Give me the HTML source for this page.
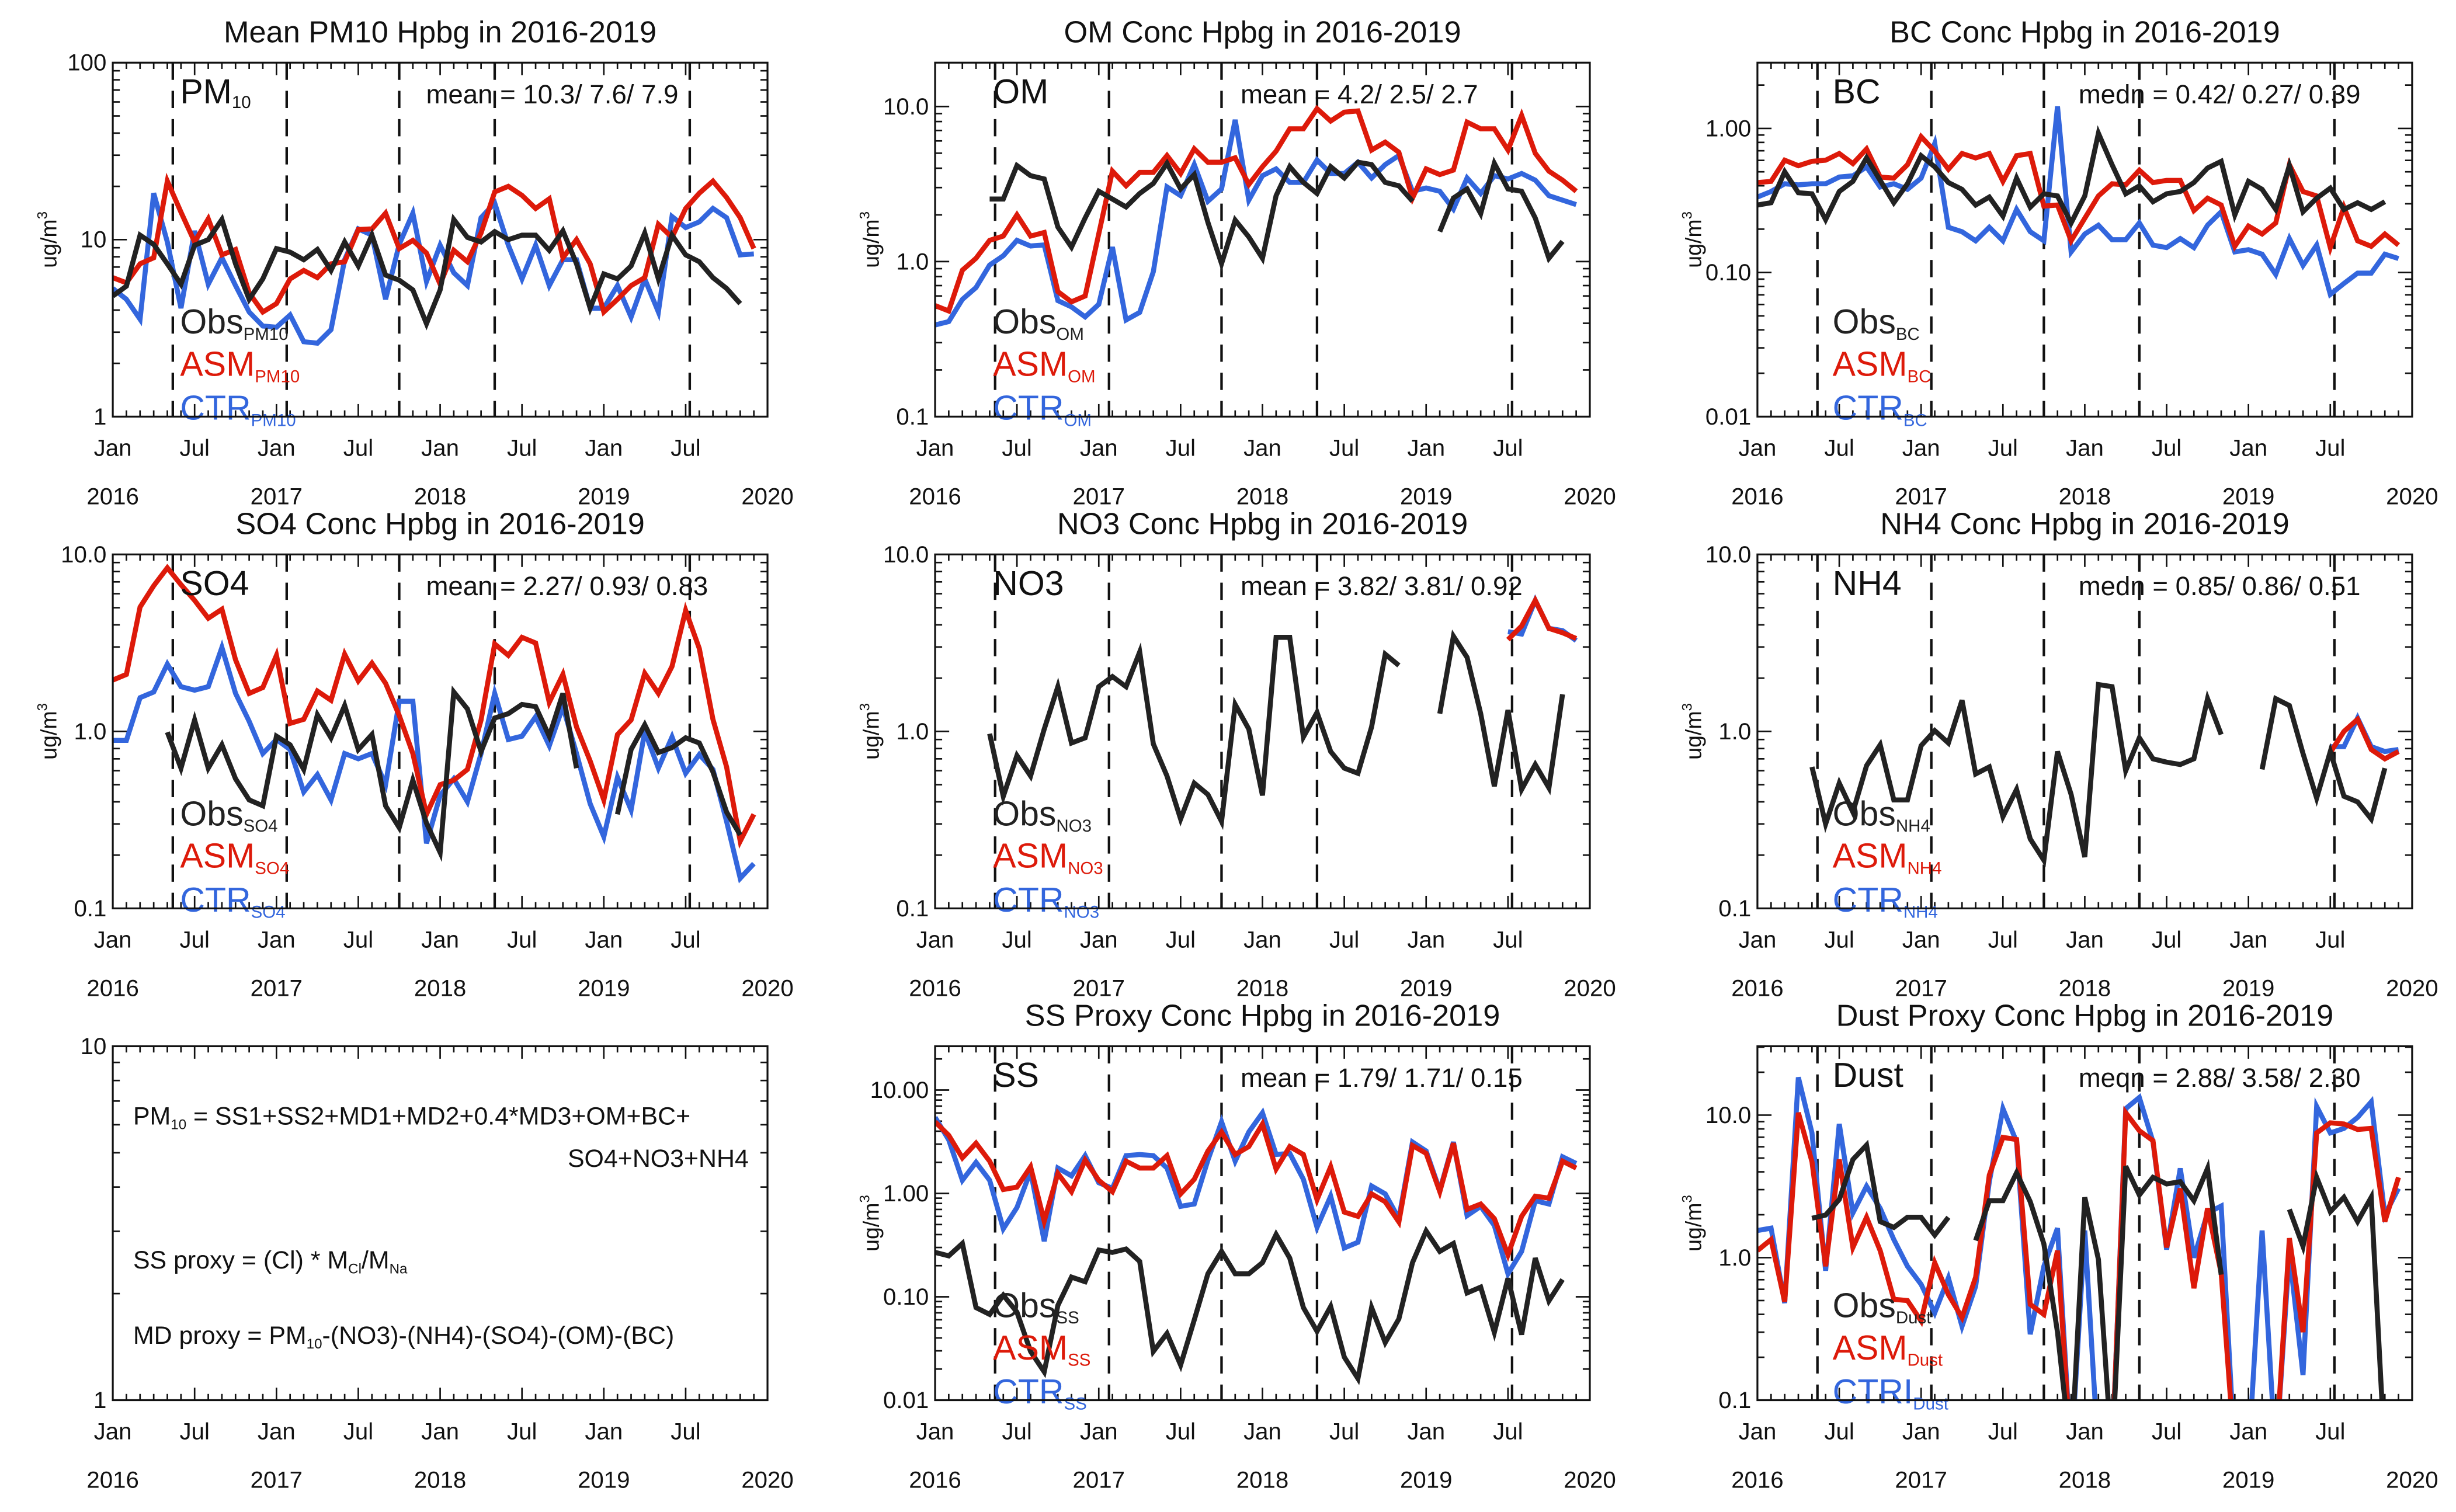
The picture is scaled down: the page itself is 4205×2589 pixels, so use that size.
<!DOCTYPE html>
<html><head><meta charset="utf-8"><title>Hpbg concentrations 2016-2019</title>
<style>
html,body{margin:0;padding:0;background:#fff;}
svg{display:block;font-family:"Liberation Sans",sans-serif;}
</style></head>
<body>
<svg id="fig" width="4205" height="2589" viewBox="0 0 1568 965.4" xmlns="http://www.w3.org/2000/svg">
<rect x="0" y="0" width="1568" height="965.4" fill="#fff"/>
</svg>
<script>
// ---------- data (monthly, Jan 2016 .. Dec 2019; null = missing) ----------
const monthLabels = ['Jan','Jul','Jan','Jul','Jan','Jul','Jan','Jul'];
const yearLabels = ['2016','2017','2018','2019','2020'];
const campaignMonths = [4.4, 12.75, 21, 28, 42.3];

const pm10Obs = [4.8,5.46,10.6,9.4,7.3,5.6,9.3,10,13.0,7.3,4.6,6.0,8.9,8.5,7.7,8.8,6.7,9.7,7.1,10.6,6.3,5.9,5.2,3.35,5.2,13.0,10.3,9.7,11.1,10,10.6,10.6,8.7,11.2,7.3,4.1,6.4,6.0,7.1,10.9,6.0,10.6,8.2,7.5,6.1,5.3,4.35,null];
const pm10Asm = [6.1,5.7,7.3,7.9,21.4,14.3,9.7,13.1,8.2,8.8,5.0,3.9,4.35,6.0,6.7,6.1,7.3,7.5,11.4,11.5,14.1,8.9,9.9,8.4,5.6,8.7,7.5,10.9,18.6,20,17.8,15.0,17.0,7.9,10,7.3,3.9,4.6,5.5,6.1,12.2,10.3,15.0,18.3,21.4,17.3,13.3,8.9];
const pm10Ctr = [5.3,4.6,3.55,18.3,9.7,4.1,11.2,5.6,7.9,5.5,3.9,3.25,3.2,3.75,2.65,2.6,3.1,7.7,11.5,10.6,4.6,9.4,14.1,5.8,9.3,6.5,5.5,13.3,16.1,9.3,6.0,9.3,5.5,7.7,7.7,4.1,4.1,5.5,3.65,6.0,3.9,13.5,11.7,12.6,15.0,13.3,8.2,8.3];

const omObs = [null,null,null,null,2.53,2.53,4.16,3.58,3.41,1.67,1.24,1.91,2.84,2.53,2.25,2.75,3.19,4.3,2.94,3.64,1.79,0.97,1.85,1.44,1.05,2.66,4.09,3.24,2.75,4.09,3.46,4.37,4.22,3.24,3.08,2.45,null,1.56,2.57,2.94,2.04,4.3,2.94,2.84,1.91,1.05,1.35,null];
const omAsm = [0.52,0.48,0.88,1.05,1.37,1.46,2.0,1.46,1.54,0.64,0.55,0.6,1.51,3.83,3.08,3.76,3.76,4.83,3.7,5.33,4.37,4.37,4.67,3.14,4.09,5.15,7.18,7.18,9.68,8.06,9.2,9.36,5.24,5.89,5.07,2.57,3.96,3.64,3.89,7.93,7.18,7.18,5.24,8.76,4.99,3.83,3.35,2.84];
const omCtr = [0.39,0.41,0.57,0.68,0.95,1.09,1.37,1.26,1.28,0.56,0.51,0.44,0.53,1.24,0.42,0.47,0.86,3.03,2.66,4.22,2.45,2.94,8.2,2.49,3.58,3.96,3.24,3.24,4.52,3.7,3.7,4.37,3.46,4.22,4.83,2.84,2.98,2.84,2.18,3.46,2.75,3.58,3.41,3.7,3.35,2.66,2.49,2.33];

const bcObs = [0.294,0.305,0.50,0.358,0.352,0.233,0.365,0.429,0.624,0.436,0.305,0.413,0.647,0.541,0.421,0.378,0.294,0.334,0.246,0.452,0.284,0.352,0.34,0.221,0.34,0.925,0.56,0.352,0.399,0.31,0.352,0.365,0.421,0.531,0.591,0.251,0.429,0.378,0.274,0.551,0.264,0.328,0.385,0.274,0.305,0.274,0.31,null];
const bcAsm = [0.421,0.429,0.602,0.551,0.591,0.602,0.67,0.57,0.72,0.46,0.452,0.56,0.876,0.695,0.521,0.67,0.624,0.67,0.429,0.647,0.67,0.289,0.294,0.166,0.238,0.34,0.413,0.406,0.513,0.421,0.436,0.436,0.269,0.328,0.294,0.152,0.21,0.185,0.221,0.56,0.365,0.34,0.149,0.284,0.166,0.152,0.185,0.155];
const bcCtr = [0.334,0.365,0.413,0.406,0.413,0.413,0.46,0.469,0.541,0.392,0.413,0.378,0.452,0.787,0.206,0.192,0.166,0.206,0.166,0.274,0.192,0.166,1.42,0.139,0.185,0.213,0.169,0.169,0.221,0.155,0.149,0.172,0.149,0.213,0.264,0.139,0.144,0.134,0.097,0.172,0.112,0.155,0.0705,0.084,0.099,0.099,0.134,0.125];

const so4Obs = [null,null,null,null,0.99,0.62,1.16,0.62,0.84,0.54,0.41,0.38,0.94,0.84,0.61,1.24,0.92,1.40,0.79,0.96,0.38,0.286,0.53,0.303,0.207,1.67,1.34,0.77,1.19,1.26,1.42,1.38,0.94,1.64,0.62,null,null,0.34,0.79,1.09,0.76,0.81,0.92,0.86,0.59,0.35,0.26,null];
const so4Asm = [1.95,2.10,5.04,6.65,8.4,6.75,5.5,4.36,4.9,2.54,1.64,1.77,2.69,1.11,1.17,1.69,1.50,2.73,1.93,2.43,1.87,1.23,0.75,0.34,0.50,0.53,0.61,1.16,3.12,2.69,3.40,3.16,1.46,2.10,1.06,0.68,0.41,0.96,1.16,2.13,1.64,2.33,4.83,2.94,1.17,0.63,0.24,0.34];
const so4Ctr = [0.89,0.89,1.55,1.67,2.40,1.79,1.71,1.79,2.98,1.64,1.14,0.75,0.90,0.79,0.455,0.57,0.41,0.75,0.70,0.75,0.50,1.48,1.48,0.233,0.435,0.54,0.40,0.75,1.64,0.90,0.94,1.21,0.83,1.38,0.75,0.39,0.254,0.55,0.36,1.0,0.62,0.93,0.58,0.74,0.61,0.31,0.148,0.179];

const no3Obs = [null,null,null,null,0.97,0.43,0.73,0.56,1.03,1.79,0.86,0.92,1.79,2.04,1.79,2.81,0.85,0.56,0.32,0.51,0.44,0.31,1.42,1.03,0.435,3.40,3.40,0.93,1.28,0.77,0.62,0.58,1.06,2.73,2.36,null,null,1.26,3.45,2.62,1.26,0.49,1.32,0.47,0.65,0.48,1.62,null];
const no3Asm = [null,null,null,null,null,null,null,null,null,null,null,null,null,null,null,null,null,null,null,null,null,null,null,null,null,null,null,null,null,null,null,null,null,null,null,null,null,null,null,null,null,null,3.30,3.94,5.5,3.82,3.61,3.35];
const no3Ctr = [null,null,null,null,null,null,null,null,null,null,null,null,null,null,null,null,null,null,null,null,null,null,null,null,null,null,null,null,null,null,null,null,null,null,null,null,null,null,null,null,null,null,3.66,3.55,5.5,3.82,3.71,3.26];

const nh4Obs = [null,null,null,null,0.63,0.30,0.51,0.35,0.64,0.84,0.41,0.41,0.83,1.01,0.86,1.50,0.575,0.63,0.33,0.47,0.247,0.187,0.77,0.44,0.195,1.84,1.79,0.60,0.92,0.70,0.67,0.65,0.70,1.53,0.96,null,null,0.61,1.53,1.40,0.75,0.42,0.77,0.43,0.40,0.32,0.62,null];
const nh4Asm = [null,null,null,null,null,null,null,null,null,null,null,null,null,null,null,null,null,null,null,null,null,null,null,null,null,null,null,null,null,null,null,null,null,null,null,null,null,null,null,null,null,null,0.76,1.0,1.17,0.79,0.70,0.77];
const nh4Ctr = [null,null,null,null,null,null,null,null,null,null,null,null,null,null,null,null,null,null,null,null,null,null,null,null,null,null,null,null,null,null,null,null,null,null,null,null,null,null,null,null,null,null,0.82,0.82,1.19,0.82,0.77,0.79];

const ssObs = [0.269,0.249,0.328,0.0786,0.0676,0.1036,0.0711,0.0296,0.0188,0.0826,0.155,0.14,0.283,0.269,0.29,0.22,0.0296,0.0442,0.0219,0.0597,0.167,0.275,0.167,0.167,0.214,0.401,0.237,0.0786,0.0464,0.0806,0.0261,0.0162,0.0786,0.0361,0.0611,0.214,0.433,0.275,0.328,0.109,0.124,0.0453,0.151,0.0431,0.237,0.0914,0.147,null];
const ssAsm = [4.93,3.65,2.21,3.06,2.05,1.09,1.15,1.81,0.54,1.56,1.04,2.10,1.34,1.04,2.05,1.76,1.76,2.32,0.99,1.37,2.57,3.93,2.38,2.84,4.69,1.72,2.84,2.38,0.87,1.81,0.66,0.60,0.99,0.83,0.53,2.91,2.44,1.04,3.06,0.70,0.79,0.57,0.255,0.60,0.94,0.90,2.05,1.76];
const ssCtr = [5.45,3.30,1.34,2.00,1.34,0.455,0.73,1.64,0.345,1.76,1.48,2.32,1.27,1.12,2.32,2.38,2.32,1.76,0.75,0.79,2.10,4.93,2.05,3.93,6.02,2.38,2.44,1.37,0.47,0.94,0.297,0.337,1.18,0.99,0.57,3.14,2.57,1.07,3.14,0.61,0.75,0.49,0.167,0.275,0.85,0.79,2.26,1.95];

const dustObs = [null,null,null,null,1.89,1.99,2.56,4.88,6.16,1.79,1.63,1.92,1.92,1.44,1.92,null,1.32,2.51,2.51,3.94,2.47,1.25,0.30,0.04,2.65,0.97,0.04,4.38,2.75,3.66,3.29,3.41,2.51,4.23,0.76,null,null,null,null,2.18,1.2,3.66,2.10,2.65,1.79,2.65,0.04,null];
const dustAsm = [1.12,1.34,0.49,10.4,4.71,0.87,4.88,1.18,1.92,1.12,0.51,0.50,0.36,0.92,0.55,0.38,0.73,3.80,6.98,6.74,0.47,0.40,1.12,0.04,0.04,0.04,0.04,10.4,7.78,6.62,1.18,3.06,0.61,2.22,0.78,0.04,0.04,0.04,0.04,1.37,0.30,7.5,8.83,8.67,7.93,8.07,1.79,3.66];
const dustCtr = [1.55,1.61,0.48,18.4,7.5,0.81,8.67,2.06,3.17,2.22,1.34,0.87,0.65,0.41,0.72,0.33,0.63,3.41,11.1,6.5,0.29,0.87,1.61,0.04,1.55,0.04,0.04,11.1,13.3,6.5,1.14,4.23,1.0,2.06,2.30,0.04,0.04,1.55,0.04,1.08,0.15,11.5,7.5,8.07,9.64,12.4,1.99,3.06];

const pm10TickVals = [1,10,100];   const pm10TickLabels = ['1','10','100'];
const omTickVals = [0.1,1,10];     const omTickLabels = ['0.1','1.0','10.0'];
const bcTickVals = [0.01,0.1,1];   const bcTickLabels = ['0.01','0.10','1.00'];
const r2TickVals = [0.1,1,10];     const r2TickLabels = ['0.1','1.0','10.0'];
const eqTickVals = [1,10];         const eqTickLabels = ['1','10'];
const ssTickVals = [0.01,0.1,1,10]; const ssTickLabels = ['0.01','0.10','1.00','10.00'];
const dustTickVals = [0.1,1,10];   const dustTickLabels = ['0.1','1.0','10.0'];

// ---------- layout ----------
const NS = 'http://www.w3.org/2000/svg';
const svg = document.getElementById('fig');
const COLX = [72, 597, 1122], ROWY = [40, 354, 668], PW = 418, PH = 226;
const C_OBS = '#222222', C_ASM = '#dd1a0a', C_CTR = '#3366dd';

function el(tag, attrs, parent) {
  const e = document.createElementNS(NS, tag);
  for (const k in attrs) e.setAttribute(k, attrs[k]);
  (parent || svg).appendChild(e);
  return e;
}

const panels = [
  {key:'pm10', col:0,row:0, ymin:1, ymax:100, tv:pm10TickVals, tl:pm10TickLabels, title:'Mean PM10 Hpbg in 2016-2019', sp:'PM', spSub:'10', sub:'PM10', stat:'mean = 10.3/ 7.6/ 7.9', obs:pm10Obs, asm:pm10Asm, ctr:pm10Ctr},
  {key:'om', col:1,row:0, ymin:0.1, ymax:0.1*Math.pow(10,226/99), tv:omTickVals, tl:omTickLabels, title:'OM Conc Hpbg in 2016-2019', sp:'OM', spSub:'', sub:'OM', stat:'mean = 4.2/ 2.5/ 2.7', obs:omObs, asm:omAsm, ctr:omCtr},
  {key:'bc', col:2,row:0, ymin:0.01, ymax:0.01*Math.pow(10,226/92), tv:bcTickVals, tl:bcTickLabels, title:'BC Conc Hpbg in 2016-2019', sp:'BC', spSub:'', sub:'BC', stat:'medn = 0.42/ 0.27/ 0.39', obs:bcObs, asm:bcAsm, ctr:bcCtr},
  {key:'so4', col:0,row:1, ymin:0.1, ymax:10, tv:r2TickVals, tl:r2TickLabels, title:'SO4 Conc Hpbg in 2016-2019', sp:'SO4', spSub:'', sub:'SO4', stat:'mean = 2.27/ 0.93/ 0.83', obs:so4Obs, asm:so4Asm, ctr:so4Ctr},
  {key:'no3', col:1,row:1, ymin:0.1, ymax:10, tv:r2TickVals, tl:r2TickLabels, title:'NO3 Conc Hpbg in 2016-2019', sp:'NO3', spSub:'', sub:'NO3', stat:'mean = 3.82/ 3.81/ 0.92', obs:no3Obs, asm:no3Asm, ctr:no3Ctr},
  {key:'nh4', col:2,row:1, ymin:0.1, ymax:10, tv:r2TickVals, tl:r2TickLabels, title:'NH4 Conc Hpbg in 2016-2019', sp:'NH4', spSub:'', sub:'NH4', stat:'medn = 0.85/ 0.86/ 0.51', obs:nh4Obs, asm:nh4Asm, ctr:nh4Ctr},
  {key:'eq', col:0,row:2, ymin:1, ymax:10, tv:eqTickVals, tl:eqTickLabels, title:'', noTitleY:true},
  {key:'ss', col:1,row:2, ymin:0.01, ymax:0.01*Math.pow(10,226/66), tv:ssTickVals, tl:ssTickLabels, title:'SS Proxy Conc Hpbg in 2016-2019', sp:'SS', spSub:'', sub:'SS', stat:'mean = 1.79/ 1.71/ 0.15', obs:ssObs, asm:ssAsm, ctr:ssCtr},
  {key:'dust', col:2,row:2, ymin:0.1, ymax:0.1*Math.pow(10,226/91), tv:dustTickVals, tl:dustTickLabels, title:'Dust Proxy Conc Hpbg in 2016-2019', sp:'Dust', spSub:'', sub:'Dust', stat:'meqn = 2.88/ 3.58/ 2.30', obs:dustObs, asm:dustAsm, ctr:dustCtr, ctrName:'CTRI'}
];

panels.forEach(p => {
  const x0 = COLX[p.col], y0 = ROWY[p.row];
  const g = el('g', {});
  
  
  const xScale = i => x0 + i * PW / 48;
  const lmin = Math.log10(p.ymin), lmax = Math.log10(p.ymax);
  const yScale = v => y0 + PH - (Math.log10(v) - lmin) / (lmax - lmin) * PH;

  // clip
  const cp = el('clipPath', {id:'clip-' + p.key}, g);
  el('rect', {x:x0, y:y0, width:PW, height:PH}, cp);

  // title
  if (p.title) {
    const t = el('text', {x:x0 + PW/2, y:y0 - 13, 'font-size':19.5, 'text-anchor':'middle', fill:'#111'}, g);
    t.textContent = p.title;
    
    
  }

  // y ticks (major+minor) both sides
  const tg = el('g', {stroke:'#111', 'stroke-width':1}, g);
  
  
  for (let d = Math.floor(lmin); d <= Math.ceil(lmax); d++) {
    for (let m = 1; m <= 9; m++) {
      const v = m * Math.pow(10, d);
      if (v < p.ymin * 0.999 || v > p.ymax * 1.001) continue;
      const y = yScale(v), len = (m === 1) ? 9 : 4.5;
      el('line', {x1:x0, x2:x0 + len, y1:y, y2:y}, tg);
      el('line', {x1:x0 + PW, x2:x0 + PW - len, y1:y, y2:y}, tg);
    }
  }
  p.tv.forEach((v, k) => {
    const t = el('text', {x:x0 - 4, y:yScale(v) + 5, 'font-size':15, 'text-anchor':'end', fill:'#111'}, g);
    t.textContent = p.tl[k];
    
    
  });

  // x ticks
  const xg = el('g', {stroke:'#111', 'stroke-width':1}, g);
  
  
  for (let m = 0; m <= 48; m++) {
    const x = xScale(m), len = (m % 6 === 0) ? 8 : 4;
    el('line', {x1:x, x2:x, y1:y0 + PH, y2:y0 + PH - len}, xg);
    el('line', {x1:x, x2:x, y1:y0, y2:y0 + len}, xg);
  }
  monthLabels.forEach((lab, k) => {
    const t = el('text', {x:xScale(k*6), y:y0 + PH + 25, 'font-size':15, 'text-anchor':'middle', fill:'#111'}, g);
    t.textContent = lab;
    
    
  });
  yearLabels.forEach((lab, k) => {
    const t = el('text', {x:xScale(k*12), y:y0 + PH + 56, 'font-size':15, 'text-anchor':'middle', fill:'#111'}, g);
    t.textContent = lab;
    
    
  });

  // y title
  if (!p.noTitleY) {
    const yt = el('text', {x:0, y:0, 'font-size':14, 'text-anchor':'middle', fill:'#111',
      transform:'translate(' + (x0 - 36) + ',' + (y0 + PH/2) + ') rotate(-90)'}, g);
    yt.innerHTML = 'ug/m<tspan font-size="9" dy="-6">3</tspan>';
    
    
  }

  if (p.key === 'eq') {
    const lines = [
      {x:x0 + 13, y:y0 + 50, a:'start', h:'PM<tspan font-size="9" dy="3">10</tspan><tspan dy="-3"> = SS1+SS2+MD1+MD2+0.4*MD3+OM+BC+</tspan>'},
      {x:x0 + 406, y:y0 + 77, a:'end', h:'SO4+NO3+NH4'},
      {x:x0 + 13, y:y0 + 142, a:'start', h:'SS proxy = (Cl) * M<tspan font-size="9" dy="3">Cl</tspan><tspan dy="-3">/M</tspan><tspan font-size="9" dy="3">Na</tspan>'},
      {x:x0 + 13, y:y0 + 190, a:'start', h:'MD proxy = PM<tspan font-size="9" dy="3">10</tspan><tspan dy="-3">-(NO3)-(NH4)-(SO4)-(OM)-(BC)</tspan>'}
    ];
    lines.forEach(L => {
      const t = el('text', {x:L.x, y:L.y, 'font-size':16, 'text-anchor':L.a, fill:'#111'}, g);
      t.innerHTML = L.h;
      
      
    });
  } else {
    // dashed campaign lines
    campaignMonths.forEach(m => {
      const l = el('line', {x1:xScale(m), x2:xScale(m), y1:y0, y2:y0 + PH, stroke:'#111', 'stroke-width':1.6, 'stroke-dasharray':'11,7'}, g);
      
      
    });
    // series
    const series = [
      {d:p.obs, c:C_OBS, n:'obs'}, {d:p.asm, c:C_ASM, n:'asm'}, {d:p.ctr, c:C_CTR, n:'ctr'}
    ];
    // draw ctr, asm, obs order as in original (obs on top)
    [series[2], series[1], series[0]].forEach(s => {
      let dstr = '', pen = false;
      s.d.forEach((v, i) => {
        if (v === null || v === undefined) { pen = false; return; }
        dstr += (pen ? 'L' : 'M') + xScale(i).toFixed(2) + ',' + yScale(v).toFixed(2);
        pen = true;
      });
      const path = el('path', {d:dstr, fill:'none', stroke:s.c, 'stroke-width':3.2, 'stroke-linejoin':'miter', 'clip-path':'url(#clip-' + p.key + ')'}, g);
      
      
    });
    // species label
    const lx = x0 + (p.col === 1 ? 37 : (p.col === 2 ? 48 : 43));
    const sl = el('text', {x:lx, y:y0 + 26, 'font-size':22, fill:'#111'}, g);
    sl.innerHTML = p.sp + (p.spSub ? '<tspan font-size="11" dy="3">' + p.spSub + '</tspan>' : '');
    
    
    // stat text
    const sx = x0 + (p.col === 2 ? 205 : (p.col === 1 ? 195 : 200));
    const st = el('text', {x:sx, y:y0 + 26, 'font-size':17, fill:'#111'}, g);
    st.textContent = p.stat;
    
    
    // legend
    const legY = [173, 200, 228];
    const legs = [['Obs', C_OBS], ['ASM', C_ASM], [p.ctrName || 'CTR', C_CTR]];
    legs.forEach((L, k) => {
      const t = el('text', {x:lx, y:y0 + legY[k], 'font-size':22, fill:L[1]}, g);
      t.innerHTML = L[0] + '<tspan font-size="11" dy="4">' + p.sub + '</tspan>';
      
      
    });
  }

  // frame
  const fr = el('rect', {x:x0, y:y0, width:PW, height:PH, fill:'none', stroke:'#111', 'stroke-width':1.2}, g);
  
  
});
</script>
</body></html>
